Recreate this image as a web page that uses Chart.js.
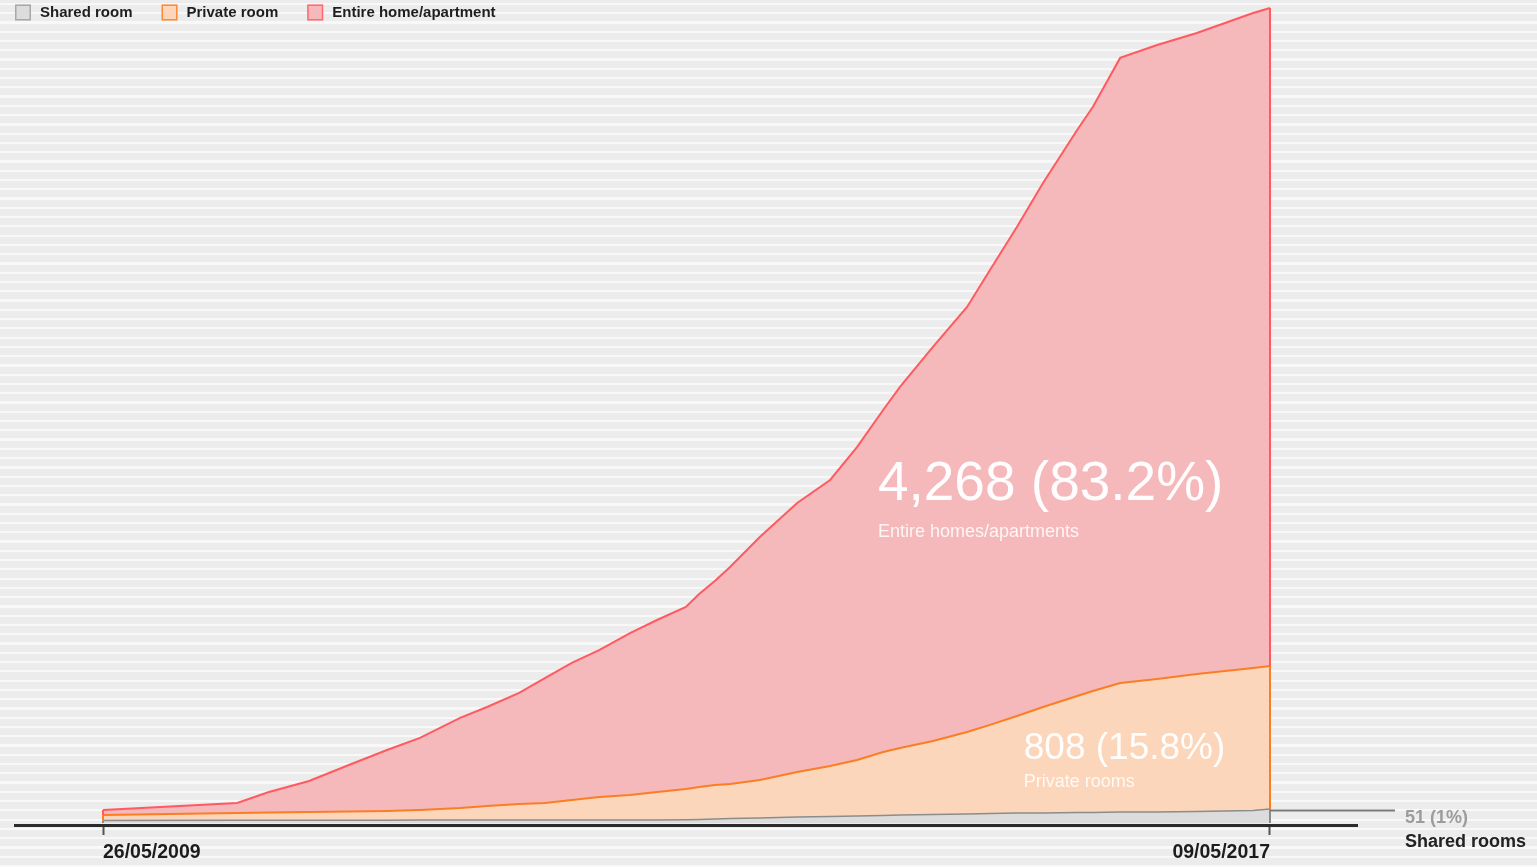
<!DOCTYPE html>
<html><head><meta charset="utf-8">
<script src="https://cdn.jsdelivr.net/npm/chart.js@4.4.1/dist/chart.umd.min.js"></script>
<style>
html,body{margin:0;padding:0;width:1537px;height:867px;overflow:hidden;
background: repeating-linear-gradient(to bottom, #ececec 0px, #ececec 2.8px, #f8f8f8 2.8px, #f8f8f8 5px, #ececec 5px, #ececec 9.27px);}
#wrap{position:absolute;left:0;top:0;width:1537px;height:867px;}
</style></head><body>
<div id="wrap"><canvas id="c" width="1537" height="867"></canvas></div>
<script>
// ---- data ----
const dates = ['2009-05-26','2010-04-25','2010-07-13','2010-10-21','2011-01-28','2011-05-03','2011-07-24','2011-11-01','2012-01-07','2012-03-27','2012-05-30','2012-08-05','2012-10-12','2012-12-28','2013-03-05','2013-05-16','2013-06-18','2013-07-27','2013-09-03','2013-11-16','2014-02-17','2014-05-10','2014-07-16','2014-09-19','2014-10-31','2015-01-21','2015-04-16','2015-06-12','2015-08-18','2015-10-22','2016-01-15','2016-02-23','2016-05-01','2016-08-01','2016-11-08','2017-03-28','2017-05-09'];
const sharedRoom = [16,17,17,18,18,18,19,19,19,19,19,19,19,19,19,20,22,25,28,31,38,41,44,47,50,53,57,60,63,63,66,66,69,69,72,79,88];
const privateRoom = [34,46,49,51,54,57,63,75,88,101,107,126,145,157,176,194,204,214,217,240,283,318,352,400,422,463,515,557,610,667,733,764,812,837,865,896,900];
const entireHome = [32,63,129,195,293,384,453,567,623,698,786,862,924,1019,1082,1145,1215,1283,1366,1528,1692,1799,1969,2151,2271,2479,2674,2862,3076,3296,3561,3674,3932,3988,4033,4121,4139];
const seriesLabels = ['Shared room','Private room','Entire home/apartment'];
const tickDates = ['2009-05-26','2017-05-09'];
const tickLabels = ['26/05/2009','09/05/2017'];
const bigLabels = ['4,268 (83.2%)','Entire homes/apartments','808 (15.8%)','Private rooms'];
const sharedLabels = ['51 (1%)','Shared rooms'];

// ---- helpers ----
const DAY = 86400000;
const t0 = Date.parse(dates[0]);
const toDay = d => (Date.parse(d) - t0) / DAY;
const pts = arr => arr.map((v, i) => ({x: toDay(dates[i]), y: v}));
const tickDays = tickDates.map(toDay);
const FONT = "'Liberation Sans', Arial, sans-serif";

const COLORS = {
  shared: {fill: '#dcdcdc', line: '#8c8c8c', box: '#a8a8a8'},
  priv:   {fill: '#fcd6bb', line: '#fb7d24', box: '#fb8a3a'},
  entire: {fill: '#f5b9bc', line: '#ff5a5f', box: '#ff6b70'}
};

// annotation anchors in data space (day, value)
const annot = [
  {text: bigLabels[0], day: 1929, val: 2032, size: 55, color: 'rgba(255,255,255,0.97)'},
  {text: bigLabels[1], day: 1929, val: 1799, size: 18, color: 'rgba(255,255,255,0.85)'},
  {text: bigLabels[2], day: 2292, val: 400, size: 37, color: 'rgba(255,255,255,0.97)'},
  {text: bigLabels[3], day: 2292, val: 226, size: 18, color: 'rgba(255,255,255,0.85)'}
];

const decor = {
  id: 'decor',
  afterDatasetsDraw(chart) {
    const ctx = chart.ctx;
    const y0 = chart.scales.y.getPixelForValue(0);
    chart.data.datasets.forEach((ds, i) => {
      const m = chart.getDatasetMeta(i).data;
      const prev = i > 0 ? chart.getDatasetMeta(i - 1).data : null;
      [0, m.length - 1].forEach(k => {
        const base = prev ? prev[k].y : y0;
        ctx.save();
        ctx.strokeStyle = ds.borderColor;
        ctx.lineWidth = 2;
        ctx.beginPath();
        ctx.moveTo(m[k].x, m[k].y);
        ctx.lineTo(m[k].x, base);
        ctx.stroke();
        ctx.restore();
      });
    });
  },
  afterDraw(chart) {
    const ctx = chart.ctx;
    const xs = chart.scales.x, ys = chart.scales.y;
    // legend
    ctx.save();
    ctx.font = "bold 15px " + FONT;
    ctx.textBaseline = 'middle';
    let lx = 15;
    chart.data.datasets.forEach((ds) => {
      ctx.fillStyle = ds.backgroundColor;
      ctx.fillRect(lx, 4.5, 16, 16);
      ctx.strokeStyle = ds.legendBorder;
      ctx.lineWidth = 1.5;
      ctx.strokeRect(lx + 0.75, 5.25, 14.5, 14.5);
      ctx.fillStyle = '#1e1e1e';
      ctx.fillText(ds.label, lx + 25, 13);
      lx += 25 + ctx.measureText(ds.label).width + 29;
    });
    ctx.restore();
    // in-area annotations
    ctx.save();
    ctx.textBaseline = 'alphabetic';
    annot.forEach(a => {
      ctx.font = a.size + "px " + FONT;
      ctx.fillStyle = a.color;
      ctx.fillText(a.text, xs.getPixelForValue(a.day), ys.getPixelForValue(a.val));
    });
    ctx.restore();
    // shared room callout
    const sm = chart.getDatasetMeta(0).data;
    const last = sm[sm.length - 1];
    const ly = Math.round(last.y) + 1.5;
    ctx.save();
    ctx.strokeStyle = '#7a7a7a';
    ctx.lineWidth = 2;
    ctx.beginPath();
    ctx.moveTo(last.x, ly);
    ctx.lineTo(last.x + 125, ly);
    ctx.stroke();
    ctx.font = "bold 18px " + FONT;
    ctx.fillStyle = '#9c9c9c';
    ctx.fillText(sharedLabels[0], last.x + 135, ly + 12);
    ctx.fillStyle = '#222';
    ctx.fillText(sharedLabels[1], last.x + 135, ly + 36);
    ctx.restore();
  }
};

new Chart(document.getElementById('c'), {
  type: 'line',
  data: {
    datasets: [
      {label: seriesLabels[0], data: pts(sharedRoom), backgroundColor: COLORS.shared.fill, borderColor: COLORS.shared.line, legendBorder: COLORS.shared.box, borderWidth: 1.5, fill: 'origin', pointRadius: 0, tension: 0},
      {label: seriesLabels[1], data: pts(privateRoom), backgroundColor: COLORS.priv.fill, borderColor: COLORS.priv.line, legendBorder: COLORS.priv.box, borderWidth: 2, fill: '-1', pointRadius: 0, tension: 0},
      {label: seriesLabels[2], data: pts(entireHome), backgroundColor: COLORS.entire.fill, borderColor: COLORS.entire.line, legendBorder: COLORS.entire.box, borderWidth: 2, fill: '-1', pointRadius: 0, tension: 0}
    ]
  },
  options: {
    responsive: false,
    animation: false,
    devicePixelRatio: 1,
    layout: {padding: {left: 15, right: 180, top: 0, bottom: 0}},
    plugins: {legend: {display: false}, tooltip: {enabled: false}},
    scales: {
      x: {
        type: 'linear',
        min: -219.06,
        max: 3121.6,
        afterBuildTicks: s => { s.ticks = tickDays.map(v => ({value: v})); },
        afterFit: s => { s.height = 42; },
        ticks: {
          autoSkip: false, maxRotation: 0, align: 'inner', padding: 6,
          color: '#1c1c1c',
          font: {family: FONT, size: 19.5, weight: 'bold'},
          callback: (v, i) => tickLabels[i]
        },
        grid: {drawOnChartArea: false, drawTicks: true, tickLength: 10, tickWidth: 2, tickColor: '#555'},
        border: {display: true, color: '#2b2b2b', width: 3}
      },
      y: {stacked: true, display: false, min: -12.6, max: 5177.4}
    }
  },
  plugins: [decor]
});
</script>
</body></html>
